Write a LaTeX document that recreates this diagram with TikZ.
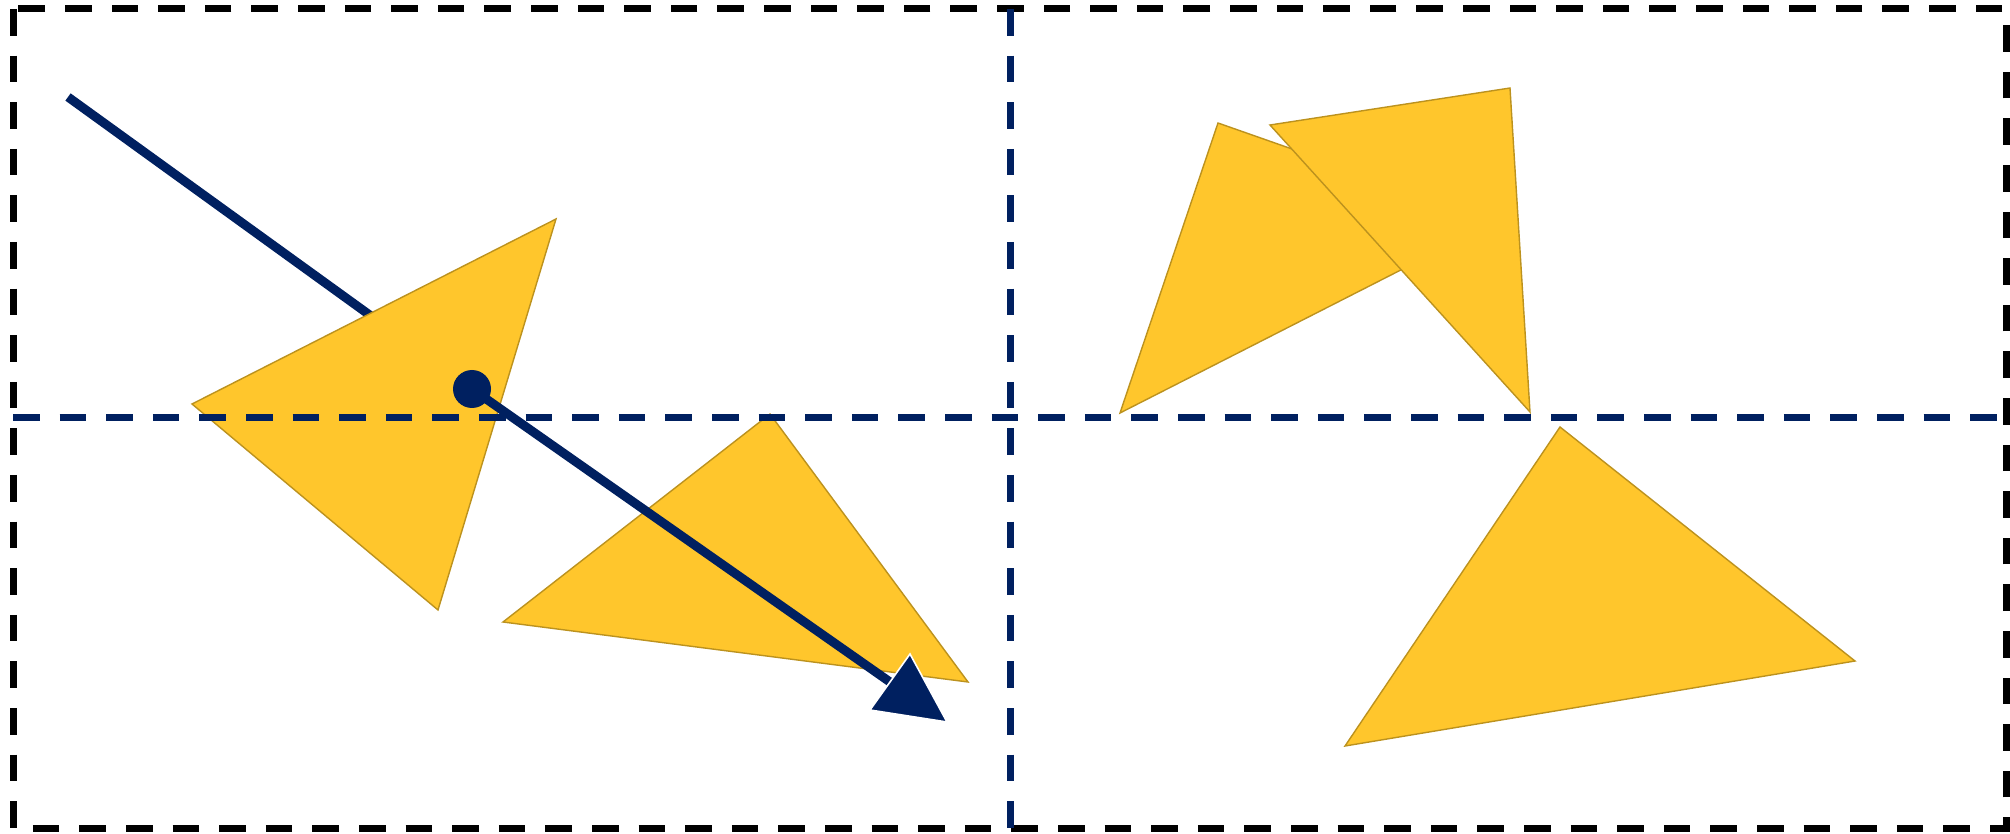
\documentclass[tikz,border=0pt]{standalone}
\definecolor{navy}{RGB}{0,32,96}
\definecolor{tri}{RGB}{255,198,44}
\definecolor{triedge}{RGB}{188,146,30}
\begin{document}
\begin{tikzpicture}[x=0.5pt,y=-0.5pt,
  outerframe/.style={draw=black,line width=3.5pt,dash pattern=on 13.3pt off 10pt},
  guideline/.style={draw=navy,line width=3.5pt,dash pattern=on 13.3pt off 10pt},
  tribox/.style={fill=tri,draw=triedge,line width=0.7pt,line join=miter},
  vecline/.style={draw=navy,line width=4.5pt},
  vechead/.style={fill=navy,draw=white,line width=0.8pt}]
\useasboundingbox (0,0) rectangle (2010,834);
% frame corners
\coordinate (TL) at (13,9);
\coordinate (TR) at (2006,9);
\coordinate (BR) at (2006,828);
\coordinate (BL) at (13,828);
\coordinate (MT) at (1010,9);
\coordinate (MB) at (1010,828);
\coordinate (ML) at (13,418);
\coordinate (MR) at (2006,418);
% vector points
\coordinate (S) at (68,97);
\coordinate (D) at (472,389);
\coordinate (Tip) at (947,722);
\coordinate (Hb) at (890,682);
\coordinate (Hu) at (910,654);
\coordinate (Hl) at (870,710);
% triangles
\coordinate (a1) at (556,219); \coordinate (a2) at (192,404); \coordinate (a3) at (438,610);
\coordinate (b1) at (770,414); \coordinate (b2) at (968,682); \coordinate (b3) at (503,622);
\coordinate (c1) at (1218,123); \coordinate (c2) at (1497,221); \coordinate (c3) at (1120,413);
\coordinate (d1) at (1270,125); \coordinate (d2) at (1510,88); \coordinate (d3) at (1530,412);
\coordinate (e1) at (1560,427); \coordinate (e2) at (1855,661); \coordinate (e3) at (1345,746);

\draw[outerframe] (TL) -- (BL) -- (BR) -- (TR) -- cycle;
\draw[vecline] (S) -- (D);
\draw[tribox] (a1) -- (a2) -- (a3) -- cycle;
\draw[tribox] (b1) -- (b2) -- (b3) -- cycle;
\draw[tribox] (c1) -- (c2) -- (c3) -- cycle;
\draw[tribox] (d1) -- (d2) -- (d3) -- cycle;
\draw[tribox] (e1) -- (e2) -- (e3) -- cycle;
\draw[guideline] (MT) -- (MB);
\draw[guideline] (ML) -- (MR);
\draw[vecline] (D) -- (Hb);
\draw[vechead] (Tip) -- (Hu) -- (Hl) -- cycle;
\fill[navy] (D) circle (9.5pt);
\end{tikzpicture}
\end{document}
